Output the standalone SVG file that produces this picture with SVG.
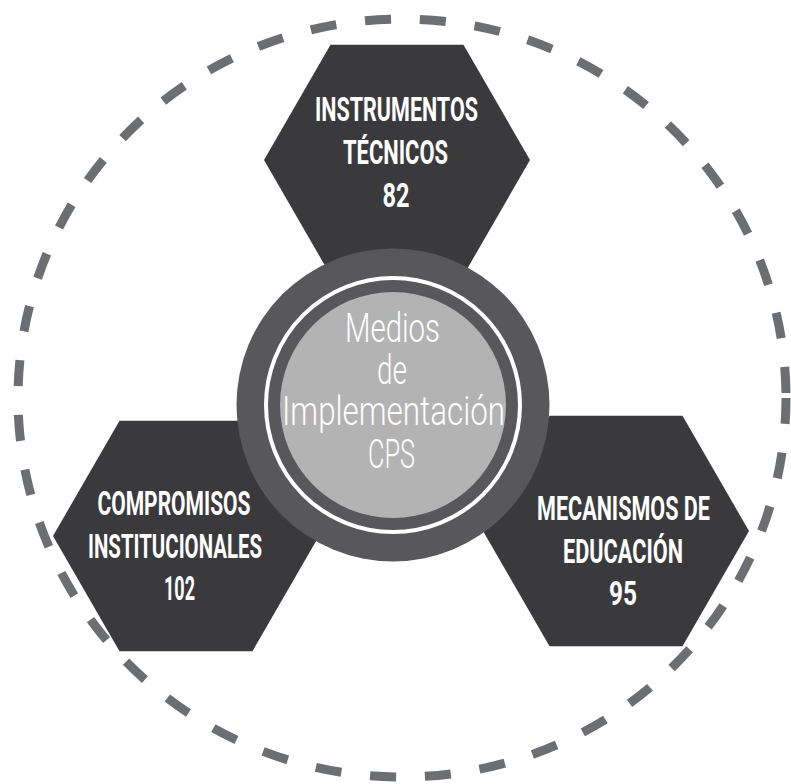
<svg xmlns="http://www.w3.org/2000/svg" width="791" height="784" viewBox="0 0 791 784">
  <style>
    .hex { fill: #3a3a3c; }
    .lbl { font-family: Roboto, "Liberation Sans", sans-serif; font-weight: 700; font-size: 34px; fill: #ffffff; text-anchor: middle; }
    .ctr { font-family: Roboto, "Liberation Sans", sans-serif; font-weight: 300; font-size: 40px; fill: #ffffff; text-anchor: middle; }
    .ring { fill: none; stroke: #6d6e71; stroke-width: 9; stroke-dasharray: 26 29; }
  </style>
  <rect width="791" height="784" fill="#ffffff"/>
  <g id="outer-ring">
    <ellipse class="ring" cx="402" cy="398" rx="384" ry="379"/>
  </g>
  <g id="connectors"/>
  <g id="node-instrumentos">
    <polygon class="hex" points="264,160 330.5,44.8 463.5,44.8 530,160 463.5,275.2 330.5,275.2"/>
    <text class="lbl" x="396.5" y="121" textLength="163" lengthAdjust="spacingAndGlyphs">INSTRUMENTOS</text>
    <text class="lbl" x="395.5" y="164" textLength="105" lengthAdjust="spacingAndGlyphs">TÉCNICOS</text>
    <text class="lbl" x="396" y="207" textLength="27" lengthAdjust="spacingAndGlyphs">82</text>
  </g>
  <g id="node-compromisos">
    <polygon class="hex" points="53,536 119.5,420.8 252.5,420.8 319,536 252.5,651.2 119.5,651.2"/>
    <text class="lbl" x="174" y="515" textLength="153" lengthAdjust="spacingAndGlyphs">COMPROMISOS</text>
    <text class="lbl" x="175" y="558" textLength="174" lengthAdjust="spacingAndGlyphs">INSTITUCIONALES</text>
    <text class="lbl" x="179.5" y="600" textLength="31" lengthAdjust="spacingAndGlyphs">102</text>
  </g>
  <g id="node-mecanismos">
    <polygon class="hex" points="483,531 549.5,415.8 682.5,415.8 749,531 682.5,646.2 549.5,646.2"/>
    <text class="lbl" x="623.5" y="520" textLength="173" lengthAdjust="spacingAndGlyphs">MECANISMOS DE</text>
    <text class="lbl" x="623" y="563" textLength="120" lengthAdjust="spacingAndGlyphs">EDUCACIÓN</text>
    <text class="lbl" x="623" y="605" textLength="28" lengthAdjust="spacingAndGlyphs">95</text>
  </g>
  <g id="node-center">
    <circle cx="393" cy="405" r="156.5" fill="#58585a"/>
    <circle cx="393" cy="405" r="127" fill="none" stroke="#ffffff" stroke-width="4"/>
    <circle cx="393" cy="405" r="113" fill="#b3b3b3"/>
    <text class="ctr" x="392.5" y="342" textLength="95" lengthAdjust="spacingAndGlyphs">Medios</text>
    <text class="ctr" x="392" y="384" textLength="30" lengthAdjust="spacingAndGlyphs">de</text>
    <text class="ctr" x="393.5" y="425" textLength="223" lengthAdjust="spacingAndGlyphs">Implementación</text>
    <text class="ctr" x="391.5" y="468" textLength="47" lengthAdjust="spacingAndGlyphs">CPS</text>
  </g>
</svg>
